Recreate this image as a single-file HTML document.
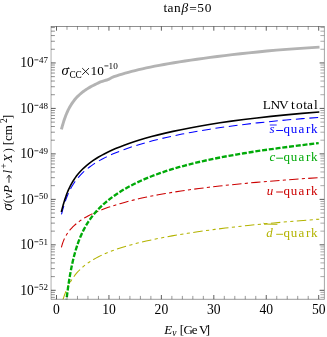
<!DOCTYPE html>
<html><head><meta charset="utf-8"><title>plot</title>
<style>
html,body{margin:0;padding:0;background:#fff;}
svg{display:block;will-change:transform;}
text{font-family:"Liberation Serif",serif;}
</style></head><body>
<svg width="327" height="337" viewBox="0 0 327 337">
<rect width="327" height="337" fill="#fff"/>
<defs><clipPath id="c"><rect x="51.10" y="26.50" width="273.10" height="272.70"/></clipPath></defs>
<g clip-path="url(#c)" fill="none">
<path d="M61.40 129.44 L61.62 128.62 L61.86 127.76 L62.10 126.87 L62.36 125.95 L62.63 125.01 L62.91 124.05 L63.20 123.06 L63.51 122.06 L63.83 121.05 L64.17 120.02 L64.52 118.98 L64.88 117.93 L65.27 116.88 L65.67 115.82 L66.09 114.75 L66.53 113.68 L66.99 112.62 L67.47 111.55 L67.97 110.48 L68.49 109.41 L69.04 108.35 L69.62 107.29 L70.22 106.23 L70.84 105.18 L71.50 104.13 L72.19 103.09 L72.90 102.06 L73.65 101.04 L74.44 100.02 L75.26 99.02 L76.12 98.04 L77.02 97.08 L77.96 96.14 L78.94 95.20 L79.97 94.26 L81.04 93.34 L82.16 92.43 L83.34 91.52 L84.57 90.62 L85.85 89.74 L87.19 88.87 L88.60 87.99 L90.07 87.13 L91.60 86.28 L93.21 85.44 L94.89 84.61 L96.65 83.71 L98.49 82.82 L100.41 81.97 L102.42 81.31 L104.52 80.65 L106.72 80.01 L109.01 79.15 L111.42 77.76 L113.93 76.65 L116.56 75.78 L119.31 74.91 L122.18 74.04 L125.19 73.17 L128.33 72.30 L131.62 71.43 L135.06 70.56 L138.65 69.69 L142.41 68.81 L146.35 67.94 L150.46 67.07 L154.76 66.20 L159.26 65.33 L163.96 64.45 L168.88 63.58 L174.02 62.71 L179.40 61.84 L185.03 60.97 L190.91 60.11 L197.06 59.24 L203.49 58.35 L210.22 57.42 L217.26 56.50 L224.61 55.57 L232.31 54.66 L240.35 53.75 L248.77 52.84 L257.57 51.94 L266.77 51.05 L276.39 50.17 L286.46 49.36 L296.98 48.60 L307.99 47.87 L319.50 47.15" stroke="#b3b3b3" stroke-width="2.9"/>
<path d="M62.80 300.19 L63.21 298.90 L63.65 297.56 L64.12 296.18 L64.61 294.76 L65.14 293.32 L65.71 291.85 L66.31 290.36 L66.95 288.86 L67.63 287.34 L68.36 285.82 L69.13 284.30 L69.95 282.77 L70.83 281.24 L71.77 279.72 L72.76 278.21 L73.83 276.70 L74.96 275.19 L76.16 273.70 L77.44 272.22 L78.81 270.75 L80.27 269.30 L81.82 267.85 L83.47 266.42 L85.23 265.00 L87.11 263.59 L89.11 262.20 L91.23 260.82 L93.50 259.45 L95.92 258.09 L98.49 256.74 L101.23 255.40 L104.15 254.06 L107.26 252.74 L110.57 251.42 L114.10 250.11 L117.86 248.81 L121.87 247.51 L126.13 246.21 L130.68 244.91 L135.52 243.62 L140.68 242.33 L146.17 241.04 L152.02 239.74 L158.26 238.45 L164.90 237.16 L171.97 235.86 L179.51 234.57 L187.54 233.27 L196.09 231.97 L205.20 230.68 L214.91 229.38 L225.25 228.08 L236.26 226.79 L248.00 225.50 L260.50 224.21 L273.81 222.94 L287.99 221.67 L303.10 220.41 L319.20 219.16" stroke="#b3b300" stroke-width="1.05" stroke-dasharray="9.5 3.4 3.2 3.4 3.15 3.4"/>
<path d="M61.40 247.40 L61.74 246.07 L62.11 244.78 L62.50 243.52 L62.92 242.30 L63.36 241.10 L63.84 239.93 L64.35 238.77 L64.90 237.64 L65.49 236.51 L66.11 235.40 L66.78 234.30 L67.50 233.21 L68.27 232.12 L69.09 231.04 L69.97 229.95 L70.91 228.87 L71.91 227.79 L72.99 226.70 L74.14 225.60 L75.37 224.50 L76.68 223.40 L78.09 222.29 L79.59 221.17 L81.20 220.06 L82.93 218.94 L84.77 217.81 L86.74 216.68 L88.85 215.55 L91.10 214.40 L93.52 213.24 L96.10 212.08 L98.86 210.91 L101.81 209.73 L104.97 208.55 L108.35 207.37 L111.97 206.15 L115.83 204.90 L119.97 203.65 L124.40 202.39 L129.13 201.13 L134.19 199.87 L139.61 198.60 L145.41 197.33 L151.61 196.06 L158.24 194.79 L165.33 193.52 L172.92 192.25 L181.04 190.99 L189.72 189.73 L199.01 188.48 L208.95 187.24 L219.58 186.01 L230.95 184.78 L243.11 183.57 L256.12 182.37 L270.04 181.18 L284.93 180.01 L300.86 178.86 L317.90 177.72" stroke="#cc0000" stroke-width="1.05" stroke-dasharray="9.4 3.3 3.08 3.3"/>
<path d="M66.00 303.98 L66.41 300.41 L66.83 296.87 L67.28 293.34 L67.74 289.86 L68.22 286.41 L68.72 283.01 L69.25 279.65 L69.79 276.36 L70.36 273.12 L70.96 269.94 L71.58 266.82 L72.23 263.77 L72.90 260.78 L73.60 257.86 L74.34 255.00 L75.10 252.21 L75.90 249.48 L76.73 246.81 L77.60 244.21 L78.50 241.67 L79.45 239.19 L80.43 236.77 L81.46 234.42 L82.53 232.12 L83.65 229.88 L84.81 227.69 L86.02 225.53 L87.29 223.44 L88.61 221.37 L89.99 219.35 L91.43 217.37 L92.92 215.42 L94.49 213.50 L96.12 211.62 L97.81 209.77 L99.59 207.94 L101.43 206.14 L103.36 204.36 L105.37 202.60 L107.47 200.87 L109.65 199.15 L111.93 197.42 L114.31 195.69 L116.79 193.98 L119.38 192.28 L122.07 190.60 L124.89 188.93 L127.82 187.27 L130.88 185.63 L134.07 183.99 L137.40 182.37 L140.87 180.77 L144.49 179.18 L148.26 177.60 L152.19 176.03 L156.30 174.48 L160.58 172.95 L165.04 171.43 L169.70 169.92 L174.56 168.44 L179.62 166.97 L184.90 165.52 L190.41 164.08 L196.15 162.67 L202.14 161.27 L208.39 159.90 L214.90 158.54 L221.70 157.20 L228.78 155.87 L236.17 154.56 L243.88 153.27 L251.91 151.98 L260.30 150.71 L269.04 149.45 L278.15 148.19 L287.66 146.93 L297.58 145.66 L307.92 144.39 L318.70 143.11" stroke="#00aa08" stroke-width="2.35" stroke-dasharray="5.0 1.8"/>
<path d="M61.50 214.27 L61.85 212.99 L62.22 211.61 L62.62 210.15 L63.04 208.62 L63.50 207.04 L63.98 205.39 L64.50 203.71 L65.06 202.00 L65.65 200.26 L66.29 198.51 L66.97 196.72 L67.69 194.94 L68.47 193.16 L69.30 191.37 L70.19 189.58 L71.14 187.80 L72.16 186.02 L73.25 184.26 L74.41 182.51 L75.65 180.76 L76.98 179.03 L78.41 177.31 L79.93 175.60 L81.56 173.90 L83.30 172.22 L85.16 170.54 L87.15 168.88 L89.28 167.22 L91.55 165.57 L93.99 163.92 L96.59 162.28 L99.38 160.64 L102.35 159.00 L105.54 157.37 L108.94 155.72 L112.59 154.09 L116.48 152.45 L120.65 150.80 L125.10 149.14 L129.87 147.49 L134.97 145.82 L140.42 144.16 L146.24 142.48 L152.48 140.81 L159.14 139.13 L166.27 137.46 L173.90 135.78 L182.05 134.11 L190.77 132.45 L200.10 130.80 L210.07 129.17 L220.74 127.55 L232.15 125.96 L244.35 124.41 L257.40 122.89 L271.35 121.42 L286.27 120.00 L302.23 118.64 L319.30 117.36" stroke="#0000ff" stroke-width="1.05" stroke-dasharray="8.8 4.7"/>
<path d="M61.30 212.01 L61.64 210.75 L62.00 209.39 L62.38 207.94 L62.80 206.41 L63.24 204.82 L63.71 203.17 L64.22 201.47 L64.76 199.73 L65.34 197.96 L65.96 196.16 L66.62 194.35 L67.33 192.52 L68.10 190.68 L68.91 188.84 L69.78 187.00 L70.71 185.17 L71.71 183.34 L72.78 181.51 L73.92 179.70 L75.14 177.89 L76.45 176.10 L77.85 174.32 L79.35 172.55 L80.96 170.79 L82.67 169.04 L84.51 167.30 L86.48 165.58 L88.58 163.86 L90.83 162.15 L93.24 160.45 L95.82 158.75 L98.58 157.05 L101.54 155.36 L104.70 153.67 L108.08 151.98 L111.70 150.29 L115.58 148.59 L119.72 146.89 L124.16 145.19 L128.91 143.48 L133.99 141.76 L139.43 140.05 L145.26 138.32 L151.49 136.59 L158.15 134.86 L165.29 133.13 L172.93 131.40 L181.10 129.66 L189.85 127.94 L199.21 126.22 L209.23 124.52 L219.95 122.83 L231.42 121.16 L243.70 119.52 L256.84 117.92 L270.90 116.36 L285.95 114.85 L302.06 113.39 L319.30 112.01" stroke="#000" stroke-width="1.6"/>
</g>
<g><line x1="56.50" y1="299.20" x2="56.50" y2="295.00" stroke="#000" stroke-width="0.70" stroke-opacity="0.90"/><line x1="56.50" y1="26.50" x2="56.50" y2="30.70" stroke="#000" stroke-width="0.70" stroke-opacity="0.90"/><line x1="66.99" y1="299.20" x2="66.99" y2="295.90" stroke="#000" stroke-width="0.50" stroke-opacity="0.80"/><line x1="66.99" y1="26.50" x2="66.99" y2="29.80" stroke="#000" stroke-width="0.50" stroke-opacity="0.80"/><line x1="77.48" y1="299.20" x2="77.48" y2="295.90" stroke="#000" stroke-width="0.50" stroke-opacity="0.80"/><line x1="77.48" y1="26.50" x2="77.48" y2="29.80" stroke="#000" stroke-width="0.50" stroke-opacity="0.80"/><line x1="87.96" y1="299.20" x2="87.96" y2="295.90" stroke="#000" stroke-width="0.50" stroke-opacity="0.80"/><line x1="87.96" y1="26.50" x2="87.96" y2="29.80" stroke="#000" stroke-width="0.50" stroke-opacity="0.80"/><line x1="98.45" y1="299.20" x2="98.45" y2="295.90" stroke="#000" stroke-width="0.50" stroke-opacity="0.80"/><line x1="98.45" y1="26.50" x2="98.45" y2="29.80" stroke="#000" stroke-width="0.50" stroke-opacity="0.80"/><line x1="108.94" y1="299.20" x2="108.94" y2="295.00" stroke="#000" stroke-width="0.70" stroke-opacity="0.90"/><line x1="108.94" y1="26.50" x2="108.94" y2="30.70" stroke="#000" stroke-width="0.70" stroke-opacity="0.90"/><line x1="119.43" y1="299.20" x2="119.43" y2="295.90" stroke="#000" stroke-width="0.50" stroke-opacity="0.80"/><line x1="119.43" y1="26.50" x2="119.43" y2="29.80" stroke="#000" stroke-width="0.50" stroke-opacity="0.80"/><line x1="129.92" y1="299.20" x2="129.92" y2="295.90" stroke="#000" stroke-width="0.50" stroke-opacity="0.80"/><line x1="129.92" y1="26.50" x2="129.92" y2="29.80" stroke="#000" stroke-width="0.50" stroke-opacity="0.80"/><line x1="140.40" y1="299.20" x2="140.40" y2="295.90" stroke="#000" stroke-width="0.50" stroke-opacity="0.80"/><line x1="140.40" y1="26.50" x2="140.40" y2="29.80" stroke="#000" stroke-width="0.50" stroke-opacity="0.80"/><line x1="150.89" y1="299.20" x2="150.89" y2="295.90" stroke="#000" stroke-width="0.50" stroke-opacity="0.80"/><line x1="150.89" y1="26.50" x2="150.89" y2="29.80" stroke="#000" stroke-width="0.50" stroke-opacity="0.80"/><line x1="161.38" y1="299.20" x2="161.38" y2="295.00" stroke="#000" stroke-width="0.70" stroke-opacity="0.90"/><line x1="161.38" y1="26.50" x2="161.38" y2="30.70" stroke="#000" stroke-width="0.70" stroke-opacity="0.90"/><line x1="171.87" y1="299.20" x2="171.87" y2="295.90" stroke="#000" stroke-width="0.50" stroke-opacity="0.80"/><line x1="171.87" y1="26.50" x2="171.87" y2="29.80" stroke="#000" stroke-width="0.50" stroke-opacity="0.80"/><line x1="182.36" y1="299.20" x2="182.36" y2="295.90" stroke="#000" stroke-width="0.50" stroke-opacity="0.80"/><line x1="182.36" y1="26.50" x2="182.36" y2="29.80" stroke="#000" stroke-width="0.50" stroke-opacity="0.80"/><line x1="192.84" y1="299.20" x2="192.84" y2="295.90" stroke="#000" stroke-width="0.50" stroke-opacity="0.80"/><line x1="192.84" y1="26.50" x2="192.84" y2="29.80" stroke="#000" stroke-width="0.50" stroke-opacity="0.80"/><line x1="203.33" y1="299.20" x2="203.33" y2="295.90" stroke="#000" stroke-width="0.50" stroke-opacity="0.80"/><line x1="203.33" y1="26.50" x2="203.33" y2="29.80" stroke="#000" stroke-width="0.50" stroke-opacity="0.80"/><line x1="213.82" y1="299.20" x2="213.82" y2="295.00" stroke="#000" stroke-width="0.70" stroke-opacity="0.90"/><line x1="213.82" y1="26.50" x2="213.82" y2="30.70" stroke="#000" stroke-width="0.70" stroke-opacity="0.90"/><line x1="224.31" y1="299.20" x2="224.31" y2="295.90" stroke="#000" stroke-width="0.50" stroke-opacity="0.80"/><line x1="224.31" y1="26.50" x2="224.31" y2="29.80" stroke="#000" stroke-width="0.50" stroke-opacity="0.80"/><line x1="234.80" y1="299.20" x2="234.80" y2="295.90" stroke="#000" stroke-width="0.50" stroke-opacity="0.80"/><line x1="234.80" y1="26.50" x2="234.80" y2="29.80" stroke="#000" stroke-width="0.50" stroke-opacity="0.80"/><line x1="245.28" y1="299.20" x2="245.28" y2="295.90" stroke="#000" stroke-width="0.50" stroke-opacity="0.80"/><line x1="245.28" y1="26.50" x2="245.28" y2="29.80" stroke="#000" stroke-width="0.50" stroke-opacity="0.80"/><line x1="255.77" y1="299.20" x2="255.77" y2="295.90" stroke="#000" stroke-width="0.50" stroke-opacity="0.80"/><line x1="255.77" y1="26.50" x2="255.77" y2="29.80" stroke="#000" stroke-width="0.50" stroke-opacity="0.80"/><line x1="266.26" y1="299.20" x2="266.26" y2="295.00" stroke="#000" stroke-width="0.70" stroke-opacity="0.90"/><line x1="266.26" y1="26.50" x2="266.26" y2="30.70" stroke="#000" stroke-width="0.70" stroke-opacity="0.90"/><line x1="276.75" y1="299.20" x2="276.75" y2="295.90" stroke="#000" stroke-width="0.50" stroke-opacity="0.80"/><line x1="276.75" y1="26.50" x2="276.75" y2="29.80" stroke="#000" stroke-width="0.50" stroke-opacity="0.80"/><line x1="287.24" y1="299.20" x2="287.24" y2="295.90" stroke="#000" stroke-width="0.50" stroke-opacity="0.80"/><line x1="287.24" y1="26.50" x2="287.24" y2="29.80" stroke="#000" stroke-width="0.50" stroke-opacity="0.80"/><line x1="297.72" y1="299.20" x2="297.72" y2="295.90" stroke="#000" stroke-width="0.50" stroke-opacity="0.80"/><line x1="297.72" y1="26.50" x2="297.72" y2="29.80" stroke="#000" stroke-width="0.50" stroke-opacity="0.80"/><line x1="308.21" y1="299.20" x2="308.21" y2="295.90" stroke="#000" stroke-width="0.50" stroke-opacity="0.80"/><line x1="308.21" y1="26.50" x2="308.21" y2="29.80" stroke="#000" stroke-width="0.50" stroke-opacity="0.80"/><line x1="318.70" y1="299.20" x2="318.70" y2="295.00" stroke="#000" stroke-width="0.70" stroke-opacity="0.90"/><line x1="318.70" y1="26.50" x2="318.70" y2="30.70" stroke="#000" stroke-width="0.70" stroke-opacity="0.90"/><line x1="51.10" y1="297.34" x2="54.90" y2="297.34" stroke="#000" stroke-width="0.52" stroke-opacity="0.85"/><line x1="324.20" y1="297.34" x2="320.40" y2="297.34" stroke="#000" stroke-width="0.42" stroke-opacity="0.80"/><line x1="51.10" y1="294.71" x2="54.90" y2="294.71" stroke="#000" stroke-width="0.52" stroke-opacity="0.85"/><line x1="324.20" y1="294.71" x2="320.40" y2="294.71" stroke="#000" stroke-width="0.42" stroke-opacity="0.80"/><line x1="51.10" y1="292.38" x2="54.90" y2="292.38" stroke="#000" stroke-width="0.52" stroke-opacity="0.85"/><line x1="324.20" y1="292.38" x2="320.40" y2="292.38" stroke="#000" stroke-width="0.42" stroke-opacity="0.80"/><line x1="51.10" y1="290.30" x2="55.70" y2="290.30" stroke="#000" stroke-width="0.70" stroke-opacity="0.95"/><line x1="324.20" y1="290.30" x2="319.60" y2="290.30" stroke="#000" stroke-width="0.70" stroke-opacity="0.95"/><line x1="51.10" y1="276.61" x2="54.90" y2="276.61" stroke="#000" stroke-width="0.52" stroke-opacity="0.85"/><line x1="324.20" y1="276.61" x2="320.40" y2="276.61" stroke="#000" stroke-width="0.42" stroke-opacity="0.80"/><line x1="51.10" y1="268.61" x2="54.90" y2="268.61" stroke="#000" stroke-width="0.52" stroke-opacity="0.85"/><line x1="324.20" y1="268.61" x2="320.40" y2="268.61" stroke="#000" stroke-width="0.42" stroke-opacity="0.80"/><line x1="51.10" y1="262.92" x2="54.90" y2="262.92" stroke="#000" stroke-width="0.52" stroke-opacity="0.85"/><line x1="324.20" y1="262.92" x2="320.40" y2="262.92" stroke="#000" stroke-width="0.42" stroke-opacity="0.80"/><line x1="51.10" y1="258.52" x2="54.90" y2="258.52" stroke="#000" stroke-width="0.52" stroke-opacity="0.85"/><line x1="324.20" y1="258.52" x2="320.40" y2="258.52" stroke="#000" stroke-width="0.42" stroke-opacity="0.80"/><line x1="51.10" y1="254.92" x2="54.90" y2="254.92" stroke="#000" stroke-width="0.52" stroke-opacity="0.85"/><line x1="324.20" y1="254.92" x2="320.40" y2="254.92" stroke="#000" stroke-width="0.42" stroke-opacity="0.80"/><line x1="51.10" y1="251.87" x2="54.90" y2="251.87" stroke="#000" stroke-width="0.52" stroke-opacity="0.85"/><line x1="324.20" y1="251.87" x2="320.40" y2="251.87" stroke="#000" stroke-width="0.42" stroke-opacity="0.80"/><line x1="51.10" y1="249.24" x2="54.90" y2="249.24" stroke="#000" stroke-width="0.52" stroke-opacity="0.85"/><line x1="324.20" y1="249.24" x2="320.40" y2="249.24" stroke="#000" stroke-width="0.42" stroke-opacity="0.80"/><line x1="51.10" y1="246.91" x2="54.90" y2="246.91" stroke="#000" stroke-width="0.52" stroke-opacity="0.85"/><line x1="324.20" y1="246.91" x2="320.40" y2="246.91" stroke="#000" stroke-width="0.42" stroke-opacity="0.80"/><line x1="51.10" y1="244.83" x2="55.70" y2="244.83" stroke="#000" stroke-width="0.70" stroke-opacity="0.95"/><line x1="324.20" y1="244.83" x2="319.60" y2="244.83" stroke="#000" stroke-width="0.70" stroke-opacity="0.95"/><line x1="51.10" y1="231.14" x2="54.90" y2="231.14" stroke="#000" stroke-width="0.52" stroke-opacity="0.85"/><line x1="324.20" y1="231.14" x2="320.40" y2="231.14" stroke="#000" stroke-width="0.42" stroke-opacity="0.80"/><line x1="51.10" y1="223.14" x2="54.90" y2="223.14" stroke="#000" stroke-width="0.52" stroke-opacity="0.85"/><line x1="324.20" y1="223.14" x2="320.40" y2="223.14" stroke="#000" stroke-width="0.42" stroke-opacity="0.80"/><line x1="51.10" y1="217.45" x2="54.90" y2="217.45" stroke="#000" stroke-width="0.52" stroke-opacity="0.85"/><line x1="324.20" y1="217.45" x2="320.40" y2="217.45" stroke="#000" stroke-width="0.42" stroke-opacity="0.80"/><line x1="51.10" y1="213.05" x2="54.90" y2="213.05" stroke="#000" stroke-width="0.52" stroke-opacity="0.85"/><line x1="324.20" y1="213.05" x2="320.40" y2="213.05" stroke="#000" stroke-width="0.42" stroke-opacity="0.80"/><line x1="51.10" y1="209.45" x2="54.90" y2="209.45" stroke="#000" stroke-width="0.52" stroke-opacity="0.85"/><line x1="324.20" y1="209.45" x2="320.40" y2="209.45" stroke="#000" stroke-width="0.42" stroke-opacity="0.80"/><line x1="51.10" y1="206.40" x2="54.90" y2="206.40" stroke="#000" stroke-width="0.52" stroke-opacity="0.85"/><line x1="324.20" y1="206.40" x2="320.40" y2="206.40" stroke="#000" stroke-width="0.42" stroke-opacity="0.80"/><line x1="51.10" y1="203.77" x2="54.90" y2="203.77" stroke="#000" stroke-width="0.52" stroke-opacity="0.85"/><line x1="324.20" y1="203.77" x2="320.40" y2="203.77" stroke="#000" stroke-width="0.42" stroke-opacity="0.80"/><line x1="51.10" y1="201.44" x2="54.90" y2="201.44" stroke="#000" stroke-width="0.52" stroke-opacity="0.85"/><line x1="324.20" y1="201.44" x2="320.40" y2="201.44" stroke="#000" stroke-width="0.42" stroke-opacity="0.80"/><line x1="51.10" y1="199.36" x2="55.70" y2="199.36" stroke="#000" stroke-width="0.70" stroke-opacity="0.95"/><line x1="324.20" y1="199.36" x2="319.60" y2="199.36" stroke="#000" stroke-width="0.70" stroke-opacity="0.95"/><line x1="51.10" y1="185.67" x2="54.90" y2="185.67" stroke="#000" stroke-width="0.52" stroke-opacity="0.85"/><line x1="324.20" y1="185.67" x2="320.40" y2="185.67" stroke="#000" stroke-width="0.42" stroke-opacity="0.80"/><line x1="51.10" y1="177.67" x2="54.90" y2="177.67" stroke="#000" stroke-width="0.52" stroke-opacity="0.85"/><line x1="324.20" y1="177.67" x2="320.40" y2="177.67" stroke="#000" stroke-width="0.42" stroke-opacity="0.80"/><line x1="51.10" y1="171.98" x2="54.90" y2="171.98" stroke="#000" stroke-width="0.52" stroke-opacity="0.85"/><line x1="324.20" y1="171.98" x2="320.40" y2="171.98" stroke="#000" stroke-width="0.42" stroke-opacity="0.80"/><line x1="51.10" y1="167.58" x2="54.90" y2="167.58" stroke="#000" stroke-width="0.52" stroke-opacity="0.85"/><line x1="324.20" y1="167.58" x2="320.40" y2="167.58" stroke="#000" stroke-width="0.42" stroke-opacity="0.80"/><line x1="51.10" y1="163.98" x2="54.90" y2="163.98" stroke="#000" stroke-width="0.52" stroke-opacity="0.85"/><line x1="324.20" y1="163.98" x2="320.40" y2="163.98" stroke="#000" stroke-width="0.42" stroke-opacity="0.80"/><line x1="51.10" y1="160.93" x2="54.90" y2="160.93" stroke="#000" stroke-width="0.52" stroke-opacity="0.85"/><line x1="324.20" y1="160.93" x2="320.40" y2="160.93" stroke="#000" stroke-width="0.42" stroke-opacity="0.80"/><line x1="51.10" y1="158.30" x2="54.90" y2="158.30" stroke="#000" stroke-width="0.52" stroke-opacity="0.85"/><line x1="324.20" y1="158.30" x2="320.40" y2="158.30" stroke="#000" stroke-width="0.42" stroke-opacity="0.80"/><line x1="51.10" y1="155.97" x2="54.90" y2="155.97" stroke="#000" stroke-width="0.52" stroke-opacity="0.85"/><line x1="324.20" y1="155.97" x2="320.40" y2="155.97" stroke="#000" stroke-width="0.42" stroke-opacity="0.80"/><line x1="51.10" y1="153.89" x2="55.70" y2="153.89" stroke="#000" stroke-width="0.70" stroke-opacity="0.95"/><line x1="324.20" y1="153.89" x2="319.60" y2="153.89" stroke="#000" stroke-width="0.70" stroke-opacity="0.95"/><line x1="51.10" y1="140.20" x2="54.90" y2="140.20" stroke="#000" stroke-width="0.52" stroke-opacity="0.85"/><line x1="324.20" y1="140.20" x2="320.40" y2="140.20" stroke="#000" stroke-width="0.42" stroke-opacity="0.80"/><line x1="51.10" y1="132.20" x2="54.90" y2="132.20" stroke="#000" stroke-width="0.52" stroke-opacity="0.85"/><line x1="324.20" y1="132.20" x2="320.40" y2="132.20" stroke="#000" stroke-width="0.42" stroke-opacity="0.80"/><line x1="51.10" y1="126.51" x2="54.90" y2="126.51" stroke="#000" stroke-width="0.52" stroke-opacity="0.85"/><line x1="324.20" y1="126.51" x2="320.40" y2="126.51" stroke="#000" stroke-width="0.42" stroke-opacity="0.80"/><line x1="51.10" y1="122.11" x2="54.90" y2="122.11" stroke="#000" stroke-width="0.52" stroke-opacity="0.85"/><line x1="324.20" y1="122.11" x2="320.40" y2="122.11" stroke="#000" stroke-width="0.42" stroke-opacity="0.80"/><line x1="51.10" y1="118.51" x2="54.90" y2="118.51" stroke="#000" stroke-width="0.52" stroke-opacity="0.85"/><line x1="324.20" y1="118.51" x2="320.40" y2="118.51" stroke="#000" stroke-width="0.42" stroke-opacity="0.80"/><line x1="51.10" y1="115.46" x2="54.90" y2="115.46" stroke="#000" stroke-width="0.52" stroke-opacity="0.85"/><line x1="324.20" y1="115.46" x2="320.40" y2="115.46" stroke="#000" stroke-width="0.42" stroke-opacity="0.80"/><line x1="51.10" y1="112.83" x2="54.90" y2="112.83" stroke="#000" stroke-width="0.52" stroke-opacity="0.85"/><line x1="324.20" y1="112.83" x2="320.40" y2="112.83" stroke="#000" stroke-width="0.42" stroke-opacity="0.80"/><line x1="51.10" y1="110.50" x2="54.90" y2="110.50" stroke="#000" stroke-width="0.52" stroke-opacity="0.85"/><line x1="324.20" y1="110.50" x2="320.40" y2="110.50" stroke="#000" stroke-width="0.42" stroke-opacity="0.80"/><line x1="51.10" y1="108.42" x2="55.70" y2="108.42" stroke="#000" stroke-width="0.70" stroke-opacity="0.95"/><line x1="324.20" y1="108.42" x2="319.60" y2="108.42" stroke="#000" stroke-width="0.70" stroke-opacity="0.95"/><line x1="51.10" y1="94.73" x2="54.90" y2="94.73" stroke="#000" stroke-width="0.52" stroke-opacity="0.85"/><line x1="324.20" y1="94.73" x2="320.40" y2="94.73" stroke="#000" stroke-width="0.42" stroke-opacity="0.80"/><line x1="51.10" y1="86.73" x2="54.90" y2="86.73" stroke="#000" stroke-width="0.52" stroke-opacity="0.85"/><line x1="324.20" y1="86.73" x2="320.40" y2="86.73" stroke="#000" stroke-width="0.42" stroke-opacity="0.80"/><line x1="51.10" y1="81.04" x2="54.90" y2="81.04" stroke="#000" stroke-width="0.52" stroke-opacity="0.85"/><line x1="324.20" y1="81.04" x2="320.40" y2="81.04" stroke="#000" stroke-width="0.42" stroke-opacity="0.80"/><line x1="51.10" y1="76.64" x2="54.90" y2="76.64" stroke="#000" stroke-width="0.52" stroke-opacity="0.85"/><line x1="324.20" y1="76.64" x2="320.40" y2="76.64" stroke="#000" stroke-width="0.42" stroke-opacity="0.80"/><line x1="51.10" y1="73.04" x2="54.90" y2="73.04" stroke="#000" stroke-width="0.52" stroke-opacity="0.85"/><line x1="324.20" y1="73.04" x2="320.40" y2="73.04" stroke="#000" stroke-width="0.42" stroke-opacity="0.80"/><line x1="51.10" y1="69.99" x2="54.90" y2="69.99" stroke="#000" stroke-width="0.52" stroke-opacity="0.85"/><line x1="324.20" y1="69.99" x2="320.40" y2="69.99" stroke="#000" stroke-width="0.42" stroke-opacity="0.80"/><line x1="51.10" y1="67.36" x2="54.90" y2="67.36" stroke="#000" stroke-width="0.52" stroke-opacity="0.85"/><line x1="324.20" y1="67.36" x2="320.40" y2="67.36" stroke="#000" stroke-width="0.42" stroke-opacity="0.80"/><line x1="51.10" y1="65.03" x2="54.90" y2="65.03" stroke="#000" stroke-width="0.52" stroke-opacity="0.85"/><line x1="324.20" y1="65.03" x2="320.40" y2="65.03" stroke="#000" stroke-width="0.42" stroke-opacity="0.80"/><line x1="51.10" y1="62.95" x2="55.70" y2="62.95" stroke="#000" stroke-width="0.70" stroke-opacity="0.95"/><line x1="324.20" y1="62.95" x2="319.60" y2="62.95" stroke="#000" stroke-width="0.70" stroke-opacity="0.95"/><line x1="51.10" y1="49.26" x2="54.90" y2="49.26" stroke="#000" stroke-width="0.52" stroke-opacity="0.85"/><line x1="324.20" y1="49.26" x2="320.40" y2="49.26" stroke="#000" stroke-width="0.42" stroke-opacity="0.80"/><line x1="51.10" y1="41.26" x2="54.90" y2="41.26" stroke="#000" stroke-width="0.52" stroke-opacity="0.85"/><line x1="324.20" y1="41.26" x2="320.40" y2="41.26" stroke="#000" stroke-width="0.42" stroke-opacity="0.80"/><line x1="51.10" y1="35.57" x2="54.90" y2="35.57" stroke="#000" stroke-width="0.52" stroke-opacity="0.85"/><line x1="324.20" y1="35.57" x2="320.40" y2="35.57" stroke="#000" stroke-width="0.42" stroke-opacity="0.80"/><line x1="51.10" y1="31.17" x2="54.90" y2="31.17" stroke="#000" stroke-width="0.52" stroke-opacity="0.85"/><line x1="324.20" y1="31.17" x2="320.40" y2="31.17" stroke="#000" stroke-width="0.42" stroke-opacity="0.80"/><line x1="51.10" y1="27.57" x2="54.90" y2="27.57" stroke="#000" stroke-width="0.52" stroke-opacity="0.85"/><line x1="324.20" y1="27.57" x2="320.40" y2="27.57" stroke="#000" stroke-width="0.42" stroke-opacity="0.80"/></g>
<g stroke="#000"><line x1="50.90" x2="324.40" y1="26.5" y2="26.5" stroke-width="0.44"/><line x1="50.90" x2="324.40" y1="299.3" y2="299.3" stroke-width="0.4"/><line y1="26.30" y2="299.40" x1="51.07" x2="51.07" stroke-width="0.32"/><line y1="26.30" y2="299.40" x1="324.4" x2="324.4" stroke-width="0.36"/></g>
<text x="56.50" y="314.00" font-size="13.60" fill="#000" text-anchor="middle">0</text>
<text x="108.94" y="314.00" font-size="13.60" fill="#000" text-anchor="middle">10</text>
<text x="161.38" y="314.00" font-size="13.60" fill="#000" text-anchor="middle">20</text>
<text x="213.82" y="314.00" font-size="13.60" fill="#000" text-anchor="middle">30</text>
<text x="266.26" y="314.00" font-size="13.60" fill="#000" text-anchor="middle">40</text>
<text x="318.70" y="314.00" font-size="13.60" fill="#000" text-anchor="middle">50</text>
<text x="33.90" y="294.75" font-size="13.60" fill="#000" text-anchor="end">10</text>
<line x1="34.4" x2="38.4" y1="287.20" y2="287.20" stroke="#000" stroke-width="0.75"/>
<text x="38.90 43.40" y="290.40" font-size="9.00" fill="#000" >52</text>
<text x="33.90" y="249.28" font-size="13.60" fill="#000" text-anchor="end">10</text>
<line x1="34.4" x2="38.4" y1="241.73" y2="241.73" stroke="#000" stroke-width="0.75"/>
<text x="38.90 43.40" y="244.93" font-size="9.00" fill="#000" >51</text>
<text x="33.90" y="203.81" font-size="13.60" fill="#000" text-anchor="end">10</text>
<line x1="34.4" x2="38.4" y1="196.26" y2="196.26" stroke="#000" stroke-width="0.75"/>
<text x="38.90 43.40" y="199.46" font-size="9.00" fill="#000" >50</text>
<text x="33.90" y="158.34" font-size="13.60" fill="#000" text-anchor="end">10</text>
<line x1="34.4" x2="38.4" y1="150.79" y2="150.79" stroke="#000" stroke-width="0.75"/>
<text x="38.90 43.40" y="153.99" font-size="9.00" fill="#000" >49</text>
<text x="33.90" y="112.87" font-size="13.60" fill="#000" text-anchor="end">10</text>
<line x1="34.4" x2="38.4" y1="105.32" y2="105.32" stroke="#000" stroke-width="0.75"/>
<text x="38.90 43.40" y="108.52" font-size="9.00" fill="#000" >48</text>
<text x="33.90" y="67.40" font-size="13.60" fill="#000" text-anchor="end">10</text>
<line x1="34.4" x2="38.4" y1="59.85" y2="59.85" stroke="#000" stroke-width="0.75"/>
<text x="38.90 43.40" y="63.05" font-size="9.00" fill="#000" >47</text>
<text x="163.60 167.60 174.10" y="12.40" font-size="13.40" fill="#000" >tan</text>
<text x="181.40" y="12.40" font-size="13.40" fill="#000" font-style="italic">β</text>
<text x="189.30" y="13.40" font-size="13.40" fill="#000" >=</text>
<text x="197.20 204.80" y="12.40" font-size="13.40" fill="#000" >50</text>
<text x="164.30" y="334.10" font-size="13.00" fill="#000" font-style="italic">E</text>
<text x="172.20" y="336.40" font-size="9.50" fill="#000" font-style="italic">ν</text>
<text x="179.70 183.60 191.80 198.90 205.70" y="334.10" font-size="13.00" fill="#000" >[GeV]</text>
<g transform="translate(12.4,210.9) rotate(-90)">
<text x="0.20" y="0.00" font-size="15.00" fill="#000" font-style="italic">σ</text>
<text x="7.90" y="-0.30" font-size="11.50" fill="#000" >(</text>
<text x="12.20" y="0.00" font-size="13.00" fill="#000" font-style="italic">νP</text>
<path d="M28.1 -3.4 L35.4 -3.4 M32.9 -5.9 Q34.2 -4.1 35.8 -3.4 Q34.2 -2.7 32.9 -0.9" stroke="#000" stroke-width="0.8" fill="none"/>
<text x="37.30" y="0.00" font-size="13.00" fill="#000" font-style="italic">l</text>
<text x="42.10" y="-5.00" font-size="9.50" fill="#000" >+</text>
<text x="48.70" y="0.00" font-size="13.00" fill="#000" font-style="italic">X</text>
<text x="59.00" y="-0.30" font-size="11.50" fill="#000" >)</text>
<text x="65.60" y="0.00" font-size="13.00" fill="#000" >[cm</text>
<text x="87.80" y="-5.60" font-size="9.50" fill="#000" >2</text>
<text x="91.90" y="0.00" font-size="13.00" fill="#000" >]</text>
</g>
<text x="61.60" y="74.80" font-size="14.50" fill="#000" font-style="italic">σ</text>
<line x1="67.2" x2="69.6" y1="68.45" y2="68.45" stroke="#000" stroke-width="0.8"/>
<text x="69.50 75.40" y="77.70" font-size="9.30" fill="#000" >CC</text>
<path d="M82.2 68.1 L89.0 74.8 M82.2 74.8 L89.0 68.1" stroke="#000" stroke-width="0.85" fill="none"/>
<text x="90.60" y="74.80" font-size="13.30" fill="#000" >10</text>
<line x1="104.4" x2="108.4" y1="65.9" y2="65.9" stroke="#000" stroke-width="0.75"/>
<text x="108.60 113.20" y="68.60" font-size="9.20" fill="#000" >10</text>
<text x="262.80 270.60 279.00 288.30 291.00 296.00 303.20 307.00 314.00" y="108.70" font-size="13.40" fill="#000" >LNV total</text>
<text x="269.60" y="133.10" font-size="13.00" fill="#0000ff" font-style="italic">s</text>
<text x="283.50 290.70 298.60 305.90 310.90" y="133.10" font-size="13.00" fill="#0000ff" >quark</text>
<line x1="276.2" x2="283.1" y1="130.50" y2="130.50" stroke="#0000ff" stroke-width="0.95"/>
<line x1="269.80" y1="125.00" x2="276.70" y2="125.00" stroke="#0000ff" stroke-width="0.85"/>
<text x="269.50" y="160.80" font-size="13.00" fill="#00aa08" font-style="italic">c</text>
<text x="283.50 290.70 298.60 305.90 310.90" y="160.80" font-size="13.00" fill="#00aa08" >quark</text>
<line x1="276.2" x2="283.1" y1="158.20" y2="158.20" stroke="#00aa08" stroke-width="0.95"/>
<text x="266.80" y="194.60" font-size="13.00" fill="#cc0000" font-style="italic">u</text>
<text x="283.50 290.70 298.60 305.90 310.90" y="194.60" font-size="13.00" fill="#cc0000" >quark</text>
<line x1="276.2" x2="283.1" y1="192.00" y2="192.00" stroke="#cc0000" stroke-width="0.95"/>
<text x="266.30" y="236.90" font-size="13.00" fill="#b3b300" font-style="italic">d</text>
<text x="283.50 290.70 298.60 305.90 310.90" y="236.90" font-size="13.00" fill="#b3b300" >quark</text>
<line x1="276.2" x2="283.1" y1="234.30" y2="234.30" stroke="#b3b300" stroke-width="0.95"/>
<line x1="264.00" y1="224.05" x2="277.40" y2="224.30" stroke="#b3b300" stroke-width="1.00"/>
<path d="M263.5 223.2 L265.2 224.0" stroke="#b3b300" stroke-width="1.0" fill="none"/>
</svg></body></html>
